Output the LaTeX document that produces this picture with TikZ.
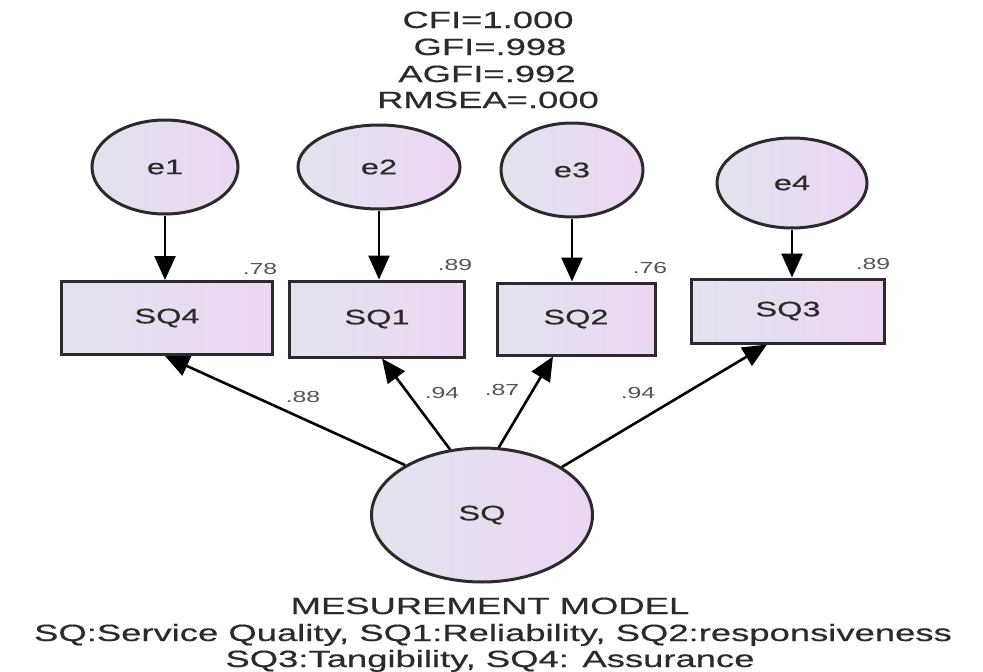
\documentclass[tikz,border=0pt]{standalone}
\usepackage{fontspec}
\setmainfont{Liberation Sans}
\newfontfamily\widesans[FakeStretch=1.55,FakeBold=0.5]{Liberation Sans}
\newfontfamily\widethin[FakeStretch=1.55]{Liberation Sans}
\usetikzlibrary{shapes.geometric,arrows.meta}
\definecolor{ink}{HTML}{2B2B2B}
\definecolor{shadeA}{HTML}{E2E3EF}
\definecolor{shadeB}{HTML}{EDD6F3}
\definecolor{numgray}{HTML}{555555}

\begin{document}
\begin{tikzpicture}[x=1pt,y=-1pt,
  latent/.style={ellipse, draw=ink, line width=3pt, left color=shadeA, right color=shadeB,
    inner sep=0pt, text=ink, font=\widesans\fontsize{21}{21}\selectfont},
  observed/.style={rectangle, draw=ink, line width=3pt, left color=shadeA, right color=shadeB,
    inner sep=0pt, text=ink, font=\widesans\fontsize{21}{21}\selectfont},
  link/.style={draw=black, line width=2.6pt, -{Triangle[length=24pt,width=21pt]}},
  coef/.style={inner sep=0pt, text=numgray, font=\widethin\fontsize{16}{16}\selectfont},
  caption/.style={inner sep=0pt, anchor=base, text=ink, font=\widesans\fontsize{23.5}{23.5}\selectfont}]

\fill[white] (0,0) rectangle (983,672);
\useasboundingbox (0,0) rectangle (983,672);

% fit indices
\node[caption] (cfi)   at (488,28)  {CFI=1.000};
\node[caption] (gfi)   at (490,55)  {GFI=.998};
\node[caption] (agfi)  at (487,82)  {AGFI=.992};
\node[caption] (rmsea) at (488,108) {RMSEA=.000};

% error terms
\node[latent, minimum width=146pt, minimum height=94pt] (e1) at (165,167) {e1};
\node[latent, minimum width=162pt, minimum height=84pt] (e2) at (379,167) {e2};
\node[latent, minimum width=142pt, minimum height=94pt] (e3) at (572,170) {e3};
\node[latent, minimum width=150pt, minimum height=90pt] (e4) at (792,183) {e4};

% indicators
\node[observed, minimum width=211pt, minimum height=73pt] (sq4) at (167,318) {SQ4};
\node[observed, minimum width=175pt, minimum height=76pt] (sq1) at (377,319) {SQ1};
\node[observed, minimum width=158pt, minimum height=72pt] (sq2) at (576,319) {SQ2};
\node[observed, minimum width=193pt, minimum height=64pt] (sq3) at (788,311) {SQ3};

% latent construct
\node[latent, minimum width=221pt, minimum height=134pt] (sq) at (482,515) {SQ};

% error paths
\draw[link] (e1.south) -- (e1.south |- sq4.north);
\draw[link] (e2.south) -- (e2.south |- sq1.north);
\draw[link] (e3.south) -- (e3.south |- sq2.north);
\draw[link] (e4.south) -- (e4.south |- sq3.north);

% factor loadings
\draw[link] (sq.147.7) -- ([xshift=-2pt]sq4.south);
\draw[link] (sq.116.2) -- ([xshift=5pt]sq1.south);
\draw[link] (sq.76.2)  -- ([xshift=-23pt]sq2.south);
\draw[link] (sq.31)    -- ([xshift=-21pt]sq3.south);

% squared multiple correlations
\node[coef] (r4) at (260,269) {.78};
\node[coef] (r1) at (455,265) {.89};
\node[coef] (r2) at (650,268) {.76};
\node[coef] (r3) at (873,264) {.89};

% standardized loadings
\node[coef] (l4) at (303,397) {.88};
\node[coef] (l1) at (442,393) {.94};
\node[coef] (l2) at (502,390) {.87};
\node[coef] (l3) at (638,393) {.94};

% legend
\node[caption] (title) at (490,614) {MESUREMENT MODEL};
\node[caption] (key1)  at (493,641) {SQ:Service Quality, SQ1:Reliability, SQ2:responsiveness};
\node[caption] (key2)  at (490,667) {SQ3:Tangibility, SQ4: Assurance};
\end{tikzpicture}
\end{document}
